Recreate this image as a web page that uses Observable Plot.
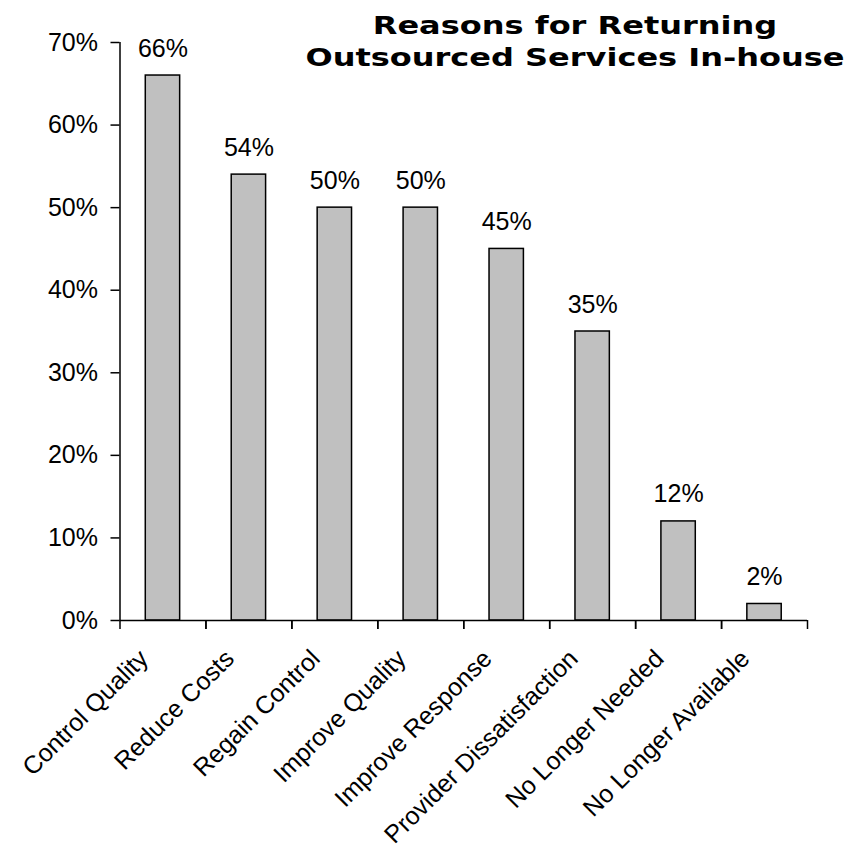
<!DOCTYPE html>
<html><head><meta charset="utf-8">
<script src="https://cdn.jsdelivr.net/npm/d3@7"></script>
<script src="https://cdn.jsdelivr.net/npm/@observablehq/plot@0.6"></script>
<style>
body{margin:0;background:#fff;}
#wrap{position:relative;width:850px;height:848px;overflow:hidden;}
#title{position:absolute;top:10px;left:575px;white-space:nowrap;text-align:center;font-family:"DejaVu Sans",Verdana,sans-serif;font-weight:bold;font-size:25px;line-height:32px;color:#000;transform:translateX(-50%) scaleX(1.28);transform-origin:center top;}
</style></head><body>
<div id="wrap"><div id="title">Reasons for Returning<br>Outsourced Services In-house</div></div>
<script>
const categories = ["Control Quality","Reduce Costs","Regain Control","Improve Quality","Improve Response","Provider Dissatisfaction","No Longer Needed","No Longer Available"];
const values = [66,54,50,50,45,35,12,2];
const yTicks = [0,10,20,30,40,50,60,70];
const data = categories.map((c,i)=>({reason:c, pct: values[i]}));
const W=850,H=848, mL=119.5, mR=43, mT=42, mB=228;
const step = (W-mL-mR)/categories.length;
const chart = Plot.plot({
  width:W,height:H,marginLeft:mL,marginRight:mR,marginTop:mT,marginBottom:mB,
  style:{fontFamily:"'Liberation Sans', Arial, sans-serif", fontSize:"25px", color:"#000", background:"transparent", overflow:"visible"},
  x:{domain:categories, paddingInner:0.6, paddingOuter:0.3, round:false, label:null},
  y:{domain:[0,70], label:null},
  marks:[
    Plot.barY(data,{x:"reason",y:"pct",fill:"#c0c0c0",stroke:"#000",strokeWidth:1.5}),
    Plot.text(data,{x:"reason",y:"pct",text:d=>d.pct+"%",lineAnchor:"bottom",dy:-19,fontSize:25,fill:"#000"}),
    Plot.axisY({ticks:yTicks, tickSize:9, tickPadding:13, tickFormat:d=>d+"%", label:null, strokeWidth:1.5, fontSize:25}),
    Plot.axisX({tickSize:9, dx:-step/2, strokeWidth:1.5, tickFormat:()=>"", label:null}),
    Plot.axisX({tickSize:9, dx:step/2, strokeWidth:1.5, tickFormat:()=>"", label:null}),
    Plot.axisX({tickSize:0, tickRotate:-45, tickPadding:34, dx:-19, label:null, fontSize:25}),
    Plot.ruleX([categories[0]],{x:d=>d, y1:0, y2:70, dx:-step/2, strokeWidth:1.5}),
    Plot.ruleY([0],{strokeWidth:1.5})
  ]
});
chart.style.position="absolute"; chart.style.left="0"; chart.style.top="0";
document.getElementById("wrap").prepend(chart);
</script>
</body></html>
